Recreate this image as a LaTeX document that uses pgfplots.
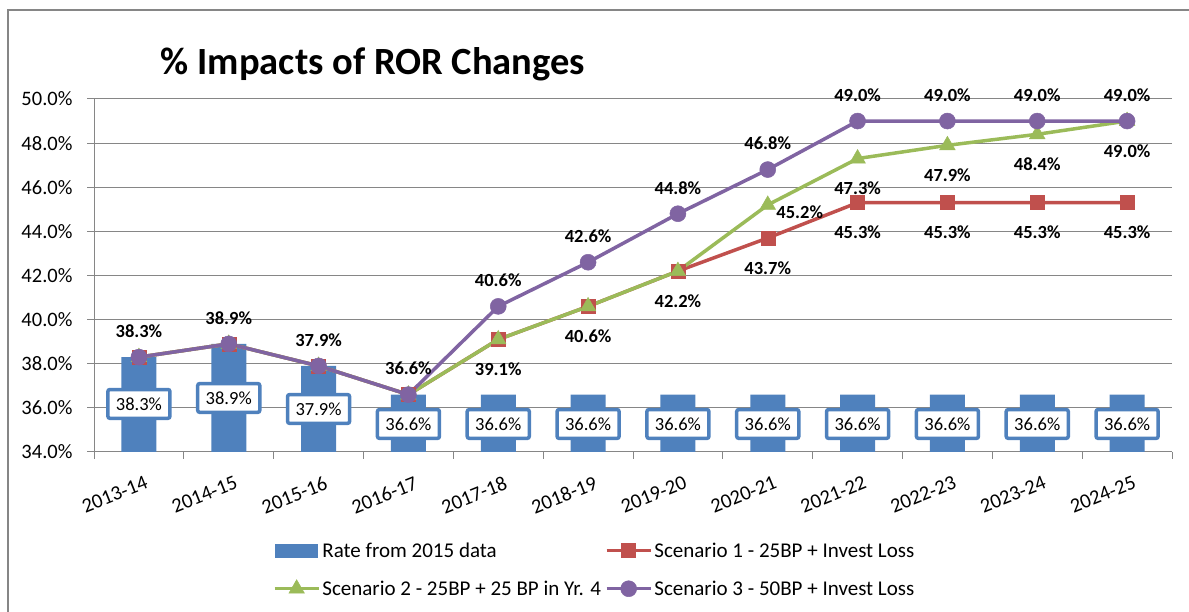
\documentclass[border=0pt]{standalone}
\usepackage{fontspec}
\setmainfont{Carlito}
\usepackage{pgfplots}
\pgfplotsset{compat=1.18}
\definecolor{cBar}{HTML}{4F81BD}
\definecolor{cRed}{HTML}{C0504D}
\definecolor{cGreen}{HTML}{9BBB59}
\definecolor{cPurple}{HTML}{8064A2}
\definecolor{cGrid}{HTML}{868686}

\begin{document}
\begin{tikzpicture}[x=1pt,y=1pt]
\path[use as bounding box] (0,0) rectangle (1189,612);
\draw[cGrid, line width=1.5pt] (8,0) -- (8,602) -- (1189,602);
\node[anchor=base, font=\fontsize{38.5}{40}\selectfont\bfseries] at (373,537) {\% Impacts of ROR Changes};
\begin{axis}[
  at={(94pt,160pt)}, anchor=south west,
  width=1078pt, height=353pt, scale only axis,
  xmin=-0.5, xmax=11.5, ymin=34, ymax=50,
  axis lines*=left,
  axis line style={-, cGrid, line width=1pt},
  ytick={34,36,...,50},
  yticklabel={\pgfmathprintnumber[fixed,fixed zerofill,precision=1]{\tick}\%},
  /pgf/number format/assume math mode=true,
  yticklabel style={xshift=-11pt},
  tick label style={font=\fontsize{20.5}{22}\selectfont},
  tick align=outside, major tick length=7pt, minor tick length=7pt,
  tick style={cGrid, line width=1pt},
  xtick={0,1,...,11},
  xticklabels={2013-14,2014-15,2015-16,2016-17,2017-18,2018-19,2019-20,2020-21,2021-22,2022-23,2023-24,2024-25},
  minor xtick={-0.5,0.5,...,11.5},
  major x tick style={draw=none},
  x tick label style={xshift=7pt, yshift=-12pt, rotate=22, anchor=north east, font=\fontsize{20.5}{22}\selectfont},
  ymajorgrids, grid style={cGrid, line width=1pt},
  legend columns=2,
  legend cell align=left,
  legend style={at={(0.163,-0.245)}, anchor=north west, draw=none, fill=none,
    font=\fontsize{21}{23}\selectfont, row sep=18pt,
    /tikz/every even column/.append style={column sep=2pt}},
  legend image code/.code={\draw[mark repeat=2, mark phase=2] plot coordinates {(0pt,0pt) (22pt,0pt) (44pt,0pt)};},
  clip=false,
]
% rate from 2015 data
\addplot[ybar, bar width=35pt, fill=cBar, draw=none,
  legend image code/.code={\fill[cBar] (0pt,-7pt) rectangle (43pt,7pt);}]
  coordinates {(0,38.3) (1,38.9) (2,37.9) (3,36.6) (4,36.6) (5,36.6) (6,36.6) (7,36.6) (8,36.6) (9,36.6) (10,36.6) (11,36.6)};
\addlegendentry{Rate from 2015 data}
% scenario 1
\addplot[cRed, line width=3.5pt, mark=square*, mark size=7pt, mark options={line width=0.5pt, fill=cRed}]
  coordinates {(0,38.3) (1,38.9) (2,37.9) (3,36.6) (4,39.1) (5,40.6) (6,42.2) (7,43.7) (8,45.3) (9,45.3) (10,45.3) (11,45.3)};
\addlegendentry{Scenario 1 - 25BP + Invest Loss}
% scenario 2
\addplot[cGreen, line width=3.5pt, mark=triangle*, mark size=9pt, mark options={line width=0.5pt, fill=cGreen}]
  coordinates {(0,38.3) (1,38.9) (2,37.9) (3,36.6) (4,39.1) (5,40.6) (6,42.2) (7,45.2) (8,47.3) (9,47.9) (10,48.4) (11,49.0)};
\addlegendentry{Scenario 2 - 25BP + 25 BP in Yr. 4}
% scenario 3
\addplot[cPurple, line width=3.5pt, mark=*, mark size=8pt, mark options={line width=0.5pt, fill=cPurple},
  nodes near coords={\pgfmathprintnumber[fixed,fixed zerofill,precision=1]{\pgfplotspointmeta}\%},
  point meta=y,
  every node near coord/.style={anchor=center, yshift=26pt, text=black, font=\fontsize{18.5}{20}\selectfont\bfseries}]
  coordinates {(0,38.3) (1,38.9) (2,37.9) (3,36.6) (4,40.6) (5,42.6) (6,44.8) (7,46.8) (8,49.0) (9,49.0) (10,49.0) (11,49.0)};
\addlegendentry{Scenario 3 - 50BP + Invest Loss}

% value labels below the lines
\addplot[draw=none, forget plot, nodes near coords, point meta=explicit symbolic,
  every node near coord/.style={anchor=center, yshift=-30pt, text=black, font=\fontsize{18.5}{20}\selectfont\bfseries}]
  coordinates {(4,39.1)[39.1\%] (5,40.6)[40.6\%] (6,42.2)[42.2\%] (7,43.7)[43.7\%] (8,45.3)[45.3\%] (9,45.3)[45.3\%] (10,45.3)[45.3\%] (11,45.3)[45.3\%]
    (8,47.3)[47.3\%] (9,47.9)[47.9\%] (10,48.4)[48.4\%] (11,49.0)[49.0\%]};
\addplot[draw=none, forget plot, nodes near coords, point meta=explicit symbolic,
  every node near coord/.style={anchor=center, xshift=32pt, yshift=-7pt, text=black, font=\fontsize{18.5}{20}\selectfont\bfseries}]
  coordinates {(7,45.2)[45.2\%]};
% boxed labels on the bars
\addplot[draw=none, forget plot, nodes near coords, point meta=explicit symbolic,
  every node near coord/.style={anchor=center, draw=cBar, line width=3.5pt, fill=white, rounded corners=2pt,
    inner xsep=8pt, inner ysep=8pt, text=black, font=\fontsize{18.5}{20}\selectfont}]
  coordinates {(0,36.18)[38.3\%] (1,36.45)[38.9\%] (2,35.95)[37.9\%] (3,35.27)[36.6\%] (4,35.27)[36.6\%] (5,35.27)[36.6\%]
    (6,35.27)[36.6\%] (7,35.27)[36.6\%] (8,35.27)[36.6\%] (9,35.27)[36.6\%] (10,35.27)[36.6\%] (11,35.27)[36.6\%]};
\end{axis}
\end{tikzpicture}
\end{document}
